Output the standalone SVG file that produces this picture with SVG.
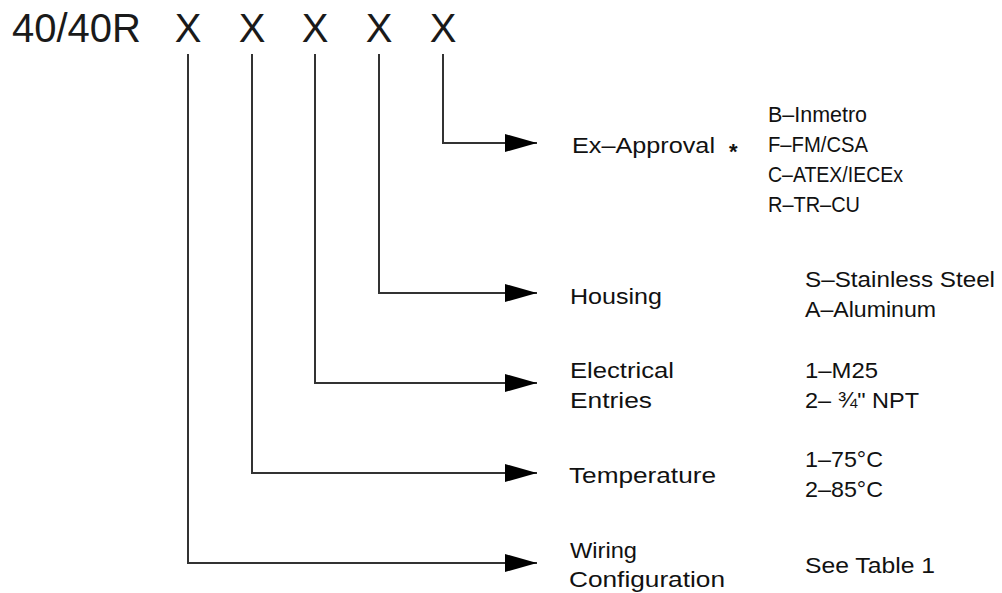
<svg xmlns="http://www.w3.org/2000/svg" width="1002" height="593" viewBox="0 0 1002 593">
<defs>
<style>
.hdr{font-family:"Liberation Sans",Arial,sans-serif;font-size:40px;fill:#1a1a1a}
.t{font-family:"Liberation Sans",Arial,sans-serif;font-size:22px;fill:#111}
.ln{fill:none;stroke:#333;stroke-width:2}
</style>
<marker id="arr" viewBox="0 0 32 18" refX="32" refY="9" markerWidth="32" markerHeight="18" markerUnits="userSpaceOnUse" orient="auto">
<path d="M0,0 L32,9 L0,18 Z" fill="#000"/>
</marker>
</defs>
<rect width="1002" height="593" fill="#fff"/>
<g id="header">
<text class="hdr" x="12" y="42">40/40R</text>
<text class="hdr" x="188" y="42" text-anchor="middle">X</text>
<text class="hdr" x="252" y="42" text-anchor="middle">X</text>
<text class="hdr" x="315" y="42" text-anchor="middle">X</text>
<text class="hdr" x="379" y="42" text-anchor="middle">X</text>
<text class="hdr" x="443" y="42" text-anchor="middle">X</text>
</g>
<g id="connectors">
<path class="ln" d="M443,54 V143 H537" marker-end="url(#arr)"/>
<path class="ln" d="M379,54 V293 H537" marker-end="url(#arr)"/>
<path class="ln" d="M315,54 V383 H537" marker-end="url(#arr)"/>
<path class="ln" d="M252,54 V473 H537" marker-end="url(#arr)"/>
<path class="ln" d="M188,54 V563 H537" marker-end="url(#arr)"/>
</g>
<g id="ex-approval">
<text class="t" x="572" y="153" textLength="143" lengthAdjust="spacingAndGlyphs">Ex–Approval</text>
<text class="t" x="768" y="122" textLength="99" lengthAdjust="spacingAndGlyphs">B–Inmetro</text>
<text class="t" x="729" y="159" font-size="26" font-weight="bold">*</text>
<text class="t" x="768" y="152" textLength="100" lengthAdjust="spacingAndGlyphs">F–FM/CSA</text>
<text class="t" x="768" y="182" textLength="135" lengthAdjust="spacingAndGlyphs">C–ATEX/IECEx</text>
<text class="t" x="768" y="212" textLength="92" lengthAdjust="spacingAndGlyphs">R–TR–CU</text>
</g>
<g id="housing">
<text class="t" x="570" y="304" textLength="92" lengthAdjust="spacingAndGlyphs">Housing</text>
<text class="t" x="805" y="287" textLength="190" lengthAdjust="spacingAndGlyphs">S–Stainless  Steel</text>
<text class="t" x="805" y="317" textLength="131" lengthAdjust="spacingAndGlyphs">A–Aluminum</text>
</g>
<g id="electrical-entries">
<text class="t" x="570" y="378" textLength="104" lengthAdjust="spacingAndGlyphs">Electrical</text>
<text class="t" x="570" y="408" textLength="82" lengthAdjust="spacingAndGlyphs">Entries</text>
<text class="t" x="805" y="378" textLength="73" lengthAdjust="spacingAndGlyphs">1–M25</text>
<text class="t" x="805" y="408" textLength="114" lengthAdjust="spacingAndGlyphs">2– ¾" NPT</text>
</g>
<g id="temperature">
<text class="t" x="569" y="483" textLength="147" lengthAdjust="spacingAndGlyphs">Temperature</text>
<text class="t" x="805" y="467" textLength="78" lengthAdjust="spacingAndGlyphs">1–75°C</text>
<text class="t" x="805" y="497" textLength="78" lengthAdjust="spacingAndGlyphs">2–85°C</text>
</g>
<g id="wiring-configuration">
<text class="t" x="570" y="558" textLength="67" lengthAdjust="spacingAndGlyphs">Wiring</text>
<text class="t" x="569" y="587" textLength="156" lengthAdjust="spacingAndGlyphs">Configuration</text>
<text class="t" x="805" y="573" textLength="130" lengthAdjust="spacingAndGlyphs">See Table 1</text>
</g>
</svg>
